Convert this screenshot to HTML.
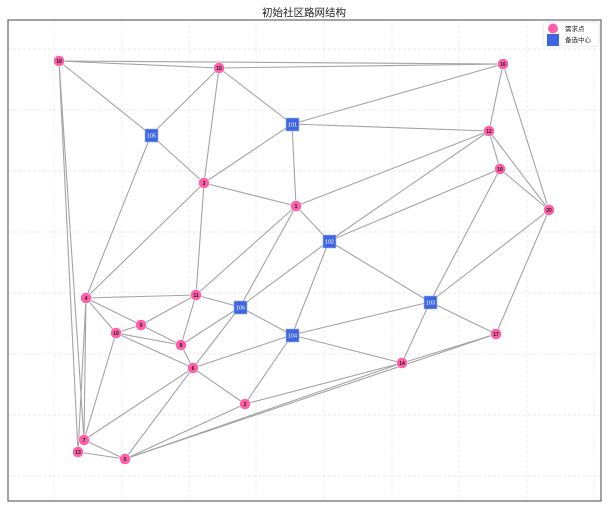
<!DOCTYPE html>
<html><head><meta charset="utf-8"><style>
body{margin:0;background:#fff;}
svg{display:block;}
text{font-family:"Liberation Sans","Noto Sans CJK SC",sans-serif;}
</style></head><body>
<svg width="609" height="508" viewBox="0 0 609 508" font-family="Liberation Sans, Noto Sans CJK SC, sans-serif">
<rect width="609" height="508" fill="#fff"/>
<text x="304" y="16" text-anchor="middle" font-size="10.5" fill="#222" font-family="Noto Sans CJK SC, sans-serif">初始社区路网结构</text>
<g stroke="#e4e4e4" stroke-dasharray="3,2" stroke-width="0.7">
<line x1="54" y1="20" x2="54" y2="501"/><line x1="122" y1="20" x2="122" y2="501"/><line x1="189" y1="20" x2="189" y2="501"/><line x1="256" y1="20" x2="256" y2="501"/><line x1="324" y1="20" x2="324" y2="501"/><line x1="392" y1="20" x2="392" y2="501"/><line x1="459" y1="20" x2="459" y2="501"/><line x1="527" y1="20" x2="527" y2="501"/><line x1="594" y1="20" x2="594" y2="501"/>
<line x1="8" y1="49" x2="601" y2="49"/><line x1="8" y1="110" x2="601" y2="110"/><line x1="8" y1="171" x2="601" y2="171"/><line x1="8" y1="232" x2="601" y2="232"/><line x1="8" y1="293" x2="601" y2="293"/><line x1="8" y1="354" x2="601" y2="354"/><line x1="8" y1="415" x2="601" y2="415"/><line x1="8" y1="476" x2="601" y2="476"/>
</g>
<rect x="8" y="20" width="593" height="481" fill="none" stroke="#666" stroke-width="1.2"/>
<g stroke="#a4a4a4" stroke-width="1.1">
<line x1="59" y1="61" x2="219" y2="68"/><line x1="59" y1="61" x2="503" y2="64"/><line x1="219" y1="68" x2="503" y2="64"/>
<line x1="59" y1="61" x2="151" y2="135"/><line x1="59" y1="61" x2="84" y2="440"/><line x1="59" y1="61" x2="78" y2="452"/>
<line x1="219" y1="68" x2="151" y2="135"/><line x1="219" y1="68" x2="204" y2="183"/><line x1="219" y1="68" x2="292" y2="124"/>
<line x1="503" y1="64" x2="292" y2="124"/><line x1="503" y1="64" x2="489" y2="131"/><line x1="503" y1="64" x2="549" y2="210"/>
<line x1="292" y1="124" x2="489" y2="131"/><line x1="292" y1="124" x2="204" y2="183"/><line x1="292" y1="124" x2="296" y2="206"/>
<line x1="151" y1="135" x2="204" y2="183"/><line x1="151" y1="135" x2="86" y2="298"/>
<line x1="489" y1="131" x2="296" y2="206"/><line x1="489" y1="131" x2="329" y2="241"/><line x1="489" y1="131" x2="500" y2="169"/><line x1="489" y1="131" x2="549" y2="210"/>
<line x1="500" y1="169" x2="549" y2="210"/><line x1="500" y1="169" x2="329" y2="241"/><line x1="500" y1="169" x2="430" y2="302"/>
<line x1="204" y1="183" x2="296" y2="206"/><line x1="204" y1="183" x2="86" y2="298"/><line x1="204" y1="183" x2="196" y2="295"/>
<line x1="296" y1="206" x2="329" y2="241"/><line x1="296" y1="206" x2="196" y2="295"/><line x1="296" y1="206" x2="240" y2="307"/>
<line x1="549" y1="210" x2="430" y2="302"/><line x1="549" y1="210" x2="496" y2="334"/>
<line x1="329" y1="241" x2="240" y2="307"/><line x1="329" y1="241" x2="292" y2="335"/><line x1="329" y1="241" x2="430" y2="302"/>
<line x1="86" y1="298" x2="196" y2="295"/><line x1="86" y1="298" x2="141" y2="325"/><line x1="86" y1="298" x2="116" y2="333"/><line x1="86" y1="298" x2="84" y2="440"/><line x1="86" y1="298" x2="78" y2="452"/>
<line x1="196" y1="295" x2="141" y2="325"/><line x1="196" y1="295" x2="181" y2="345"/><line x1="196" y1="295" x2="240" y2="307"/>
<line x1="240" y1="307" x2="181" y2="345"/><line x1="240" y1="307" x2="193" y2="368"/><line x1="240" y1="307" x2="292" y2="335"/>
<line x1="141" y1="325" x2="181" y2="345"/><line x1="116" y1="333" x2="181" y2="345"/><line x1="116" y1="333" x2="193" y2="368"/><line x1="116" y1="333" x2="84" y2="440"/><line x1="116" y1="333" x2="141" y2="325"/>
<line x1="181" y1="345" x2="193" y2="368"/>
<line x1="292" y1="335" x2="430" y2="302"/><line x1="292" y1="335" x2="193" y2="368"/><line x1="292" y1="335" x2="402" y2="363"/><line x1="292" y1="335" x2="245" y2="404"/>
<line x1="430" y1="302" x2="402" y2="363"/><line x1="430" y1="302" x2="496" y2="334"/>
<line x1="193" y1="368" x2="84" y2="440"/><line x1="193" y1="368" x2="125" y2="459"/><line x1="193" y1="368" x2="245" y2="404"/>
<line x1="245" y1="404" x2="402" y2="363"/><line x1="245" y1="404" x2="125" y2="459"/>
<line x1="402" y1="363" x2="125" y2="459"/><line x1="496" y1="334" x2="125" y2="459"/><line x1="496" y1="334" x2="402" y2="363"/>
<line x1="84" y1="440" x2="125" y2="459"/><line x1="78" y1="452" x2="125" y2="459"/>
</g>
<g fill="#ff5fa8" stroke="#fff" stroke-width="0.5">
<circle cx="59" cy="61" r="5.5"/><circle cx="219" cy="68" r="5.5"/><circle cx="503" cy="64" r="5.5"/><circle cx="489" cy="131" r="5.5"/><circle cx="500" cy="169" r="5.5"/><circle cx="204" cy="183" r="5.5"/><circle cx="296" cy="206" r="5.5"/><circle cx="549" cy="210" r="5.5"/><circle cx="86" cy="298" r="5.5"/><circle cx="196" cy="295" r="5.5"/><circle cx="141" cy="325" r="5.5"/><circle cx="116" cy="333" r="5.5"/><circle cx="496" cy="334" r="5.5"/><circle cx="181" cy="345" r="5.5"/><circle cx="402" cy="363" r="5.5"/><circle cx="193" cy="368" r="5.5"/><circle cx="245" cy="404" r="5.5"/><circle cx="84" cy="440" r="5.5"/><circle cx="78" cy="452" r="5.5"/><circle cx="125" cy="459" r="5.5"/>
</g>
<g fill="#3e66e0" stroke="#9fb4f0" stroke-width="0.6">
<rect x="145" y="129" width="13" height="13"/><rect x="286" y="118" width="13" height="13"/><rect x="323" y="235" width="13" height="13"/><rect x="234" y="301" width="13" height="13"/><rect x="424" y="296" width="13" height="13"/><rect x="286" y="329" width="13" height="13"/>
</g>
<g font-size="5" text-anchor="middle" fill="#222" font-weight="bold">
<text x="59" y="63">18</text><text x="219" y="70">15</text><text x="503" y="66">16</text><text x="489" y="133">12</text><text x="500" y="171">10</text><text x="204" y="185">3</text><text x="296" y="208">1</text><text x="549" y="212">20</text><text x="86" y="300">4</text><text x="196" y="297">11</text><text x="141" y="327">9</text><text x="116" y="335">19</text><text x="496" y="336">17</text><text x="181" y="347">8</text><text x="402" y="365">14</text><text x="193" y="370">6</text><text x="245" y="406">2</text><text x="84" y="442">7</text><text x="78" y="454">13</text><text x="125" y="461">5</text>
</g>
<g font-size="5.5" text-anchor="middle" fill="#fff">
<text x="151.5" y="137.5">105</text><text x="292.5" y="126.5">101</text><text x="329.5" y="243.5">102</text><text x="240.5" y="309.5">106</text><text x="430.5" y="304.5">103</text><text x="292.5" y="337.5">104</text>
</g>
<rect x="543" y="22" width="56" height="24" fill="#fff" stroke="#ddd" stroke-width="0.6" rx="2"/>
<circle cx="553" cy="28.5" r="5" fill="#ff5fa8"/>
<rect x="547" y="34" width="12" height="12" fill="#3e66e0"/>
<text x="565" y="31" font-size="6.5" fill="#222" font-family="Noto Sans CJK SC, sans-serif">需求点</text>
<text x="565" y="42" font-size="6.5" fill="#222" font-family="Noto Sans CJK SC, sans-serif">备选中心</text>
</svg>
</body></html>
